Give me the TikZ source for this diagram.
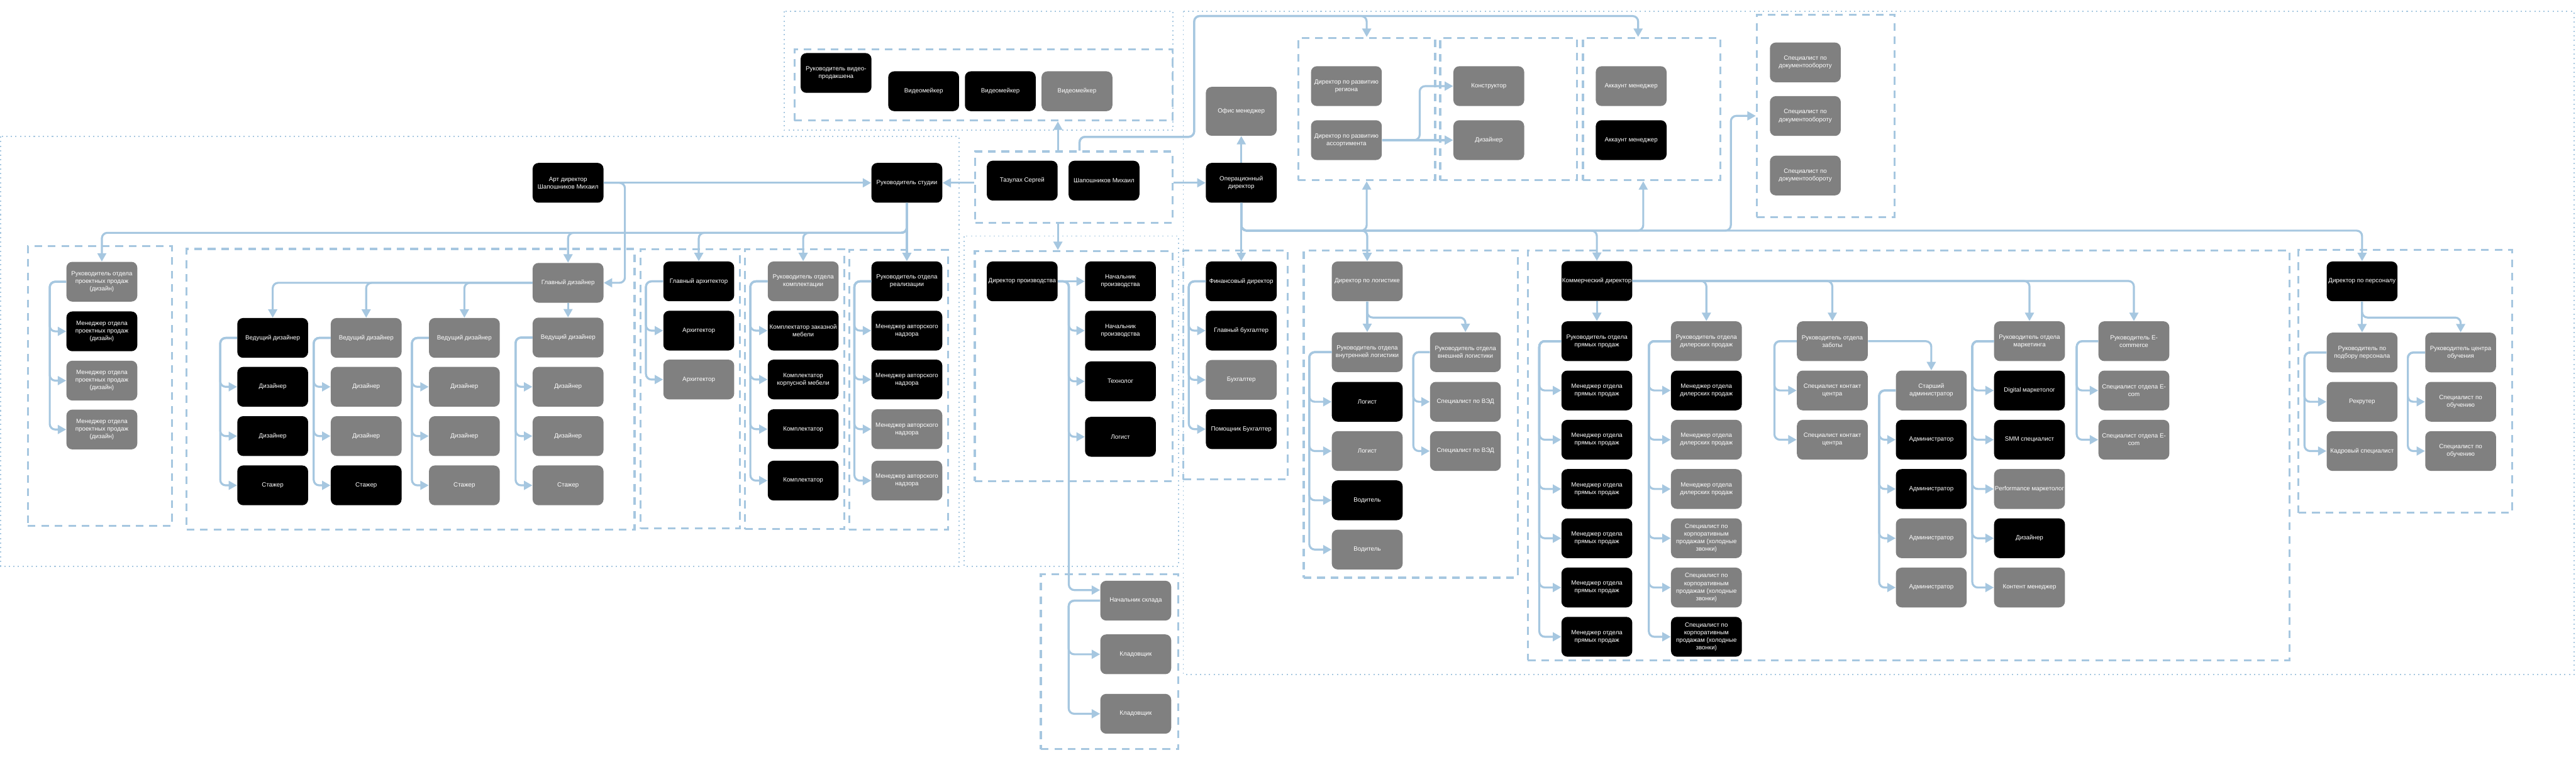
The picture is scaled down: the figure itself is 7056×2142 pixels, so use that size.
\documentclass[tikz,border=0pt]{standalone}
\usepackage{fontspec}
\setmainfont{Liberation Sans}
\usetikzlibrary{arrows.meta,calc}
\definecolor{conn}{RGB}{166,199,224}
\definecolor{vacfill}{RGB}{128,128,128}

\begin{document}
\begin{tikzpicture}[x=0.1mm,y=-0.1mm,
  box/.style={rounded corners=1.6mm,minimum width=19.4mm,minimum height=10.9mm,inner sep=0pt,align=center,text=white,font=\fontsize{4.8}{5.9}\selectfont},
  staff/.style={box,fill=black},
  vacant/.style={box,fill=vacfill},
  grp/.style={draw=conn,line width=0.55mm,dash pattern=on 2.1mm off 1.6mm,inner sep=0pt},
  zone/.style={draw=conn,line width=0.3mm,dash pattern=on 0.35mm off 0.9mm},
  arr/.style={-{Triangle[length=2.3mm,width=2.4mm]},draw=conn,line width=0.55mm,rounded corners=1.5mm}
]
\fill[white] (0,0) rectangle (7056,2142);

% zones
\draw[zone] (2,374) rectangle (2627,1552);
\draw[zone] (2148,31) rectangle (3213,357);
\draw[zone] (2641,647) rectangle (3228,1552);
\draw[zone] (3241,31) rectangle (7051,1848);

% departments
\node[grp,minimum width=39.5mm,minimum height=76.6mm] (fA) at (273.5,1058) {};
\node[grp,minimum width=122.7mm,minimum height=77mm] (fB) at (1124.5,1067) {};
\node[grp,minimum width=27.2mm,minimum height=76.5mm] (fC) at (1891,1065.5) {};
\node[grp,minimum width=27.1mm,minimum height=76.7mm] (fD) at (2176.5,1066.5) {};
\node[grp,minimum width=27.1mm,minimum height=76.6mm] (fE) at (2461.5,1068) {};
\node[grp,minimum width=103.6mm,minimum height=19.5mm] (vidgrp) at (2694,232.5) {};
\node[grp,minimum width=54.1mm,minimum height=19.5mm] (tazgrp) at (2941.5,512.5) {};
\node[grp,minimum width=54.2mm,minimum height=63mm] (prodgrp) at (2941,1003) {};
\node[grp,minimum width=37.7mm,minimum height=48mm] (skladgrp) at (3039.5,1813) {};
\node[grp,minimum width=28.6mm,minimum height=62.8mm] (fingrp) at (3384,1000) {};
\node[grp,minimum width=37.5mm,minimum height=39mm] (devF) at (3743.5,299) {};
\node[grp,minimum width=37.5mm,minimum height=39mm] (devG) at (4132.5,299) {};
\node[grp,minimum width=37.6mm,minimum height=39mm] (devH) at (4524,299) {};
\node[grp,minimum width=37.7mm,minimum height=55.5mm] (docsgrp) at (5000.5,317.5) {};
\node[grp,minimum width=58.6mm,minimum height=89.7mm] (loggrp) at (3864,1134.5) {};
\node[grp,minimum width=208.6mm,minimum height=112.3mm] (comgrp) at (5228,1247.5) {};
\node[grp,minimum width=58.5mm,minimum height=72mm] (persgrp) at (6588.5,1045) {};

% heads
\node[staff] (art) at (1556,501) {Арт директор\\Шапошников Михаил};
\node[staff] (rs) at (2484,501) {Руководитель студии};
\node[staff] (taz) at (2800,495) {Тазулах Сергей};
\node[staff] (shap) at (3024,495) {Шапошников Михаил};
\node[staff] (od) at (3400,501) {Операционный\\директор};
\node[vacant,minimum height=13.4mm] (om) at (3400,305) {Офис менеджер};

% video
\node[staff] (rvp) at (2290,200) {Руководитель видео-\\продакшена};
\node[staff] (vm1) at (2530,250) {Видеомейкер};
\node[staff] (vm2) at (2740,250) {Видеомейкер};
\node[vacant] (vm3) at (2950,250) {Видеомейкер};

% project sales
\node[vacant] (ropp) at (279,772) {Руководитель отдела\\проектных продаж\\(дизайн)};
\node[staff] (mpp1) at (279,908) {Менеджер отдела\\проектных продаж\\(дизайн)};
\node[vacant] (mpp2) at (279,1043) {Менеджер отдела\\проектных продаж\\(дизайн)};
\node[vacant] (mpp3) at (279,1177) {Менеджер отдела\\проектных продаж\\(дизайн)};

% designers
\node[vacant] (gd) at (1556,775) {Главный дизайнер};
\node[staff] (vd1) at (747,926) {Ведущий дизайнер};
\node[staff] (dz11) at (747,1060) {Дизайнер};
\node[staff] (dz12) at (747,1195) {Дизайнер};
\node[staff] (st1) at (747,1330) {Стажер};
\node[vacant] (vd2) at (1003,926) {Ведущий дизайнер};
\node[vacant] (dz21) at (1003,1060) {Дизайнер};
\node[vacant] (dz22) at (1003,1195) {Дизайнер};
\node[staff] (st2) at (1003,1330) {Стажер};
\node[vacant] (vd3) at (1272,926) {Ведущий дизайнер};
\node[vacant] (dz31) at (1272,1060) {Дизайнер};
\node[vacant] (dz32) at (1272,1195) {Дизайнер};
\node[vacant] (st3) at (1272,1330) {Стажер};
\node[vacant] (vd4) at (1556,925) {Ведущий дизайнер};
\node[vacant] (dz41) at (1556,1060) {Дизайнер};
\node[vacant] (dz42) at (1556,1195) {Дизайнер};
\node[vacant] (st4) at (1556,1330) {Стажер};

% architects
\node[staff] (ga) at (1914,771) {Главный архитектор};
\node[staff] (ar1) at (1914,906) {Архитектор};
\node[vacant] (ar2) at (1914,1040) {Архитектор};

% completion
\node[vacant] (rok) at (2200,771) {Руководитель отдела\\комплектации};
\node[staff] (kp1) at (2200,906) {Комплектатор заказной\\мебели};
\node[staff] (kp2) at (2200,1040) {Комплектатор\\корпусной мебели};
\node[staff] (kp3) at (2200,1176) {Комплектатор};
\node[staff] (kp4) at (2200,1317) {Комплектатор};

% realisation
\node[staff] (ror) at (2484,771) {Руководитель отдела\\реализации};
\node[staff] (mn1) at (2484,906) {Менеджер авторского\\надзора};
\node[staff] (mn2) at (2484,1040) {Менеджер авторского\\надзора};
\node[vacant] (mn3) at (2484,1176) {Менеджер авторского\\надзора};
\node[vacant] (mn4) at (2484,1317) {Менеджер авторского\\надзора};

% production
\node[staff] (dp) at (2800,771) {Директор производства};
\node[staff] (np1) at (3069,771) {Начальник\\производства};
\node[staff] (np2) at (3069,906) {Начальник\\производства};
\node[staff] (tech) at (3069,1045) {Технолог};
\node[staff] (lgp) at (3069,1197) {Логист};

% warehouse
\node[vacant] (ns) at (3111,1646) {Начальник склада};
\node[vacant] (kl1) at (3111,1793) {Кладовщик};
\node[vacant] (kl2) at (3111,1956) {Кладовщик};

% finance
\node[staff] (fd) at (3400,771) {Финансовый директор};
\node[staff] (gb) at (3400,906) {Главный бухгалтер};
\node[vacant] (bh) at (3400,1041) {Бухгалтер};
\node[staff] (pb) at (3400,1176) {Помощник Бухгалтер};

% development
\node[vacant] (drr) at (3688,236) {Директор по развитию\\региона};
\node[vacant] (dra) at (3688,384) {Директор по развитию\\ассортимента};
\node[vacant] (kon) at (4078,236) {Конструктор};
\node[vacant] (dzn) at (4078,384) {Дизайнер};
\node[vacant] (am1) at (4468,236) {Аккаунт менеджер};
\node[staff] (am2) at (4468,384) {Аккаунт менеджер};

% documents
\node[vacant] (sd1) at (4945,171) {Специалист по\\документообороту};
\node[vacant] (sd2) at (4945,318) {Специалист по\\документообороту};
\node[vacant] (sd3) at (4945,481) {Специалист по\\документообороту};

% logistics
\node[vacant] (dl) at (3745,771) {Директор по логистике};
\node[vacant] (rvl) at (3745,965) {Руководитель отдела\\внутренней логистики};
\node[staff] (lg1) at (3745,1101) {Логист};
\node[vacant] (lg2) at (3745,1236) {Логист};
\node[staff] (drv1) at (3745,1371) {Водитель};
\node[vacant] (drv2) at (3745,1506) {Водитель};
\node[vacant] (rnl) at (4014,965) {Руководитель отдела\\внешней логистики};
\node[vacant] (ved1) at (4014,1101) {Специалист по ВЭД};
\node[vacant] (ved2) at (4014,1236) {Специалист по ВЭД};

% commercial
\node[staff] (kd) at (4374,770) {Коммерческий директор};
\node[staff] (rpp) at (4374,935) {Руководитель отдела\\прямых продаж};
\node[staff] (mp1) at (4374,1070) {Менеджер отдела\\прямых продаж};
\node[staff] (mp2) at (4374,1205) {Менеджер отдела\\прямых продаж};
\node[staff] (mp3) at (4374,1340) {Менеджер отдела\\прямых продаж};
\node[staff] (mp4) at (4374,1475) {Менеджер отдела\\прямых продаж};
\node[staff] (mp5) at (4374,1610) {Менеджер отдела\\прямых продаж};
\node[staff] (mp6) at (4374,1745) {Менеджер отдела\\прямых продаж};
\node[vacant] (rdp) at (4674,935) {Руководитель отдела\\дилерских продаж};
\node[staff] (md1) at (4674,1070) {Менеджер отдела\\дилерских продаж};
\node[vacant] (md2) at (4674,1205) {Менеджер отдела\\дилерских продаж};
\node[vacant] (md3) at (4674,1340) {Менеджер отдела\\дилерских продаж};
\node[vacant] (sk1) at (4674,1475) {Специалист по\\корпоративным\\продажам (холодные\\звонки)};
\node[vacant] (sk2) at (4674,1610) {Специалист по\\корпоративным\\продажам (холодные\\звонки)};
\node[staff] (sk3) at (4674,1745) {Специалист по\\корпоративным\\продажам (холодные\\звонки)};
\node[vacant] (rz) at (5019,935) {Руководитель отдела\\заботы};
\node[vacant] (kc1) at (5019,1070) {Специалист контакт\\центра};
\node[vacant] (kc2) at (5019,1205) {Специалист контакт\\центра};
\node[vacant] (sa) at (5290,1070) {Старший\\администратор};
\node[staff] (ad1) at (5290,1205) {Администратор};
\node[staff] (ad2) at (5290,1340) {Администратор};
\node[vacant] (ad3) at (5290,1475) {Администратор};
\node[vacant] (ad4) at (5290,1610) {Администратор};
\node[vacant] (rm) at (5559,935) {Руководитель отдела\\маркетинга};
\node[staff] (dm) at (5559,1070) {Digital маркетолог};
\node[staff] (smm) at (5559,1205) {SMM специалист};
\node[vacant] (pm) at (5559,1340) {Performance маркетолог};
\node[staff] (mdz) at (5559,1475) {Дизайнер};
\node[vacant] (km) at (5559,1610) {Контент менеджер};
\node[vacant] (re) at (5845,935) {Руководитель E-\\commerce};
\node[vacant] (se1) at (5845,1070) {Специалист отдела E-\\com};
\node[vacant] (se2) at (5845,1205) {Специалист отдела E-\\com};

% personnel
\node[staff] (dpers) at (6470,771) {Директор по персоналу};
\node[vacant] (rpod) at (6470,966) {Руководитель по\\подбору персонала};
\node[vacant] (rek) at (6470,1101) {Рекрутер};
\node[vacant] (kadr) at (6470,1236) {Кадровый специалист};
\node[vacant] (rco) at (6740,966) {Руководитель центра\\обучения};
\node[vacant] (so1) at (6740,1101) {Специалист по\\обучению};
\node[vacant] (so2) at (6740,1236) {Специалист по\\обучению};

% bus points
\coordinate (sbus) at (0,638);
\coordinate (obus) at (0,632);
\coordinate (tj1) at (2957,375);
\coordinate (tj2) at (3271,44);
\coordinate (dj) at (4741,0);
\coordinate (htop) at ($(devH.north)+(-37,0)$);
\coordinate (hbot) at ($(devH.south)+(-23,0)$);

% top level
\draw[arr] (art.east) -- (rs.west);
\draw[arr] (art.east) -| ($(gd.east)+(58,0)$) -- (gd.east);
\draw[arr] (rs.east -| tazgrp.west) -- (rs.east);
\draw[arr] (od.west -| tazgrp.east) -- (od.west);
\draw[arr] (tazgrp.north -| taz.east) -- (vidgrp.south -| taz.east);
\draw[arr] (tazgrp.south -| taz.east) -- (prodgrp.north -| taz.east);
\draw[arr] (tazgrp.north -| tj1) -- (tj1) -| (tj2) -| (devF.north);
\draw[arr] (tazgrp.north -| tj1) -- (tj1) -| (tj2) -| (htop);
\draw[arr] (od.north) -- (om.south);

% studio
\draw[arr] (rs.south) |- (sbus -| ropp) -- (ropp.north);
\draw[arr] (rs.south) |- (sbus -| gd) -- (gd.north);
\draw[arr] (rs.south) |- (sbus -| ga) -- (ga.north);
\draw[arr] (rs.south) |- (sbus -| rok) -- (rok.north);
\draw[arr] (rs.south) -- (ror.north);

\draw[arr] (ropp.west) -- ++(-45,0) |- (mpp1.west);
\draw[arr] (ropp.west) -- ++(-45,0) |- (mpp2.west);
\draw[arr] (ropp.west) -- ++(-45,0) |- (mpp3.west);

\draw[arr] (gd.west) -| (vd1.north);
\draw[arr] (gd.west) -| (vd2.north);
\draw[arr] (gd.west) -| (vd3.north);
\draw[arr] (gd.south) -- (vd4.north);
\draw[arr] (vd1.west) -- ++(-46,0) |- (dz11.west);
\draw[arr] (vd1.west) -- ++(-46,0) |- (dz12.west);
\draw[arr] (vd1.west) -- ++(-46,0) |- (st1.west);
\draw[arr] (vd2.west) -- ++(-46,0) |- (dz21.west);
\draw[arr] (vd2.west) -- ++(-46,0) |- (dz22.west);
\draw[arr] (vd2.west) -- ++(-46,0) |- (st2.west);
\draw[arr] (vd3.west) -- ++(-46,0) |- (dz31.west);
\draw[arr] (vd3.west) -- ++(-46,0) |- (dz32.west);
\draw[arr] (vd3.west) -- ++(-46,0) |- (st3.west);
\draw[arr] (vd4.west) -- ++(-46,0) |- (dz41.west);
\draw[arr] (vd4.west) -- ++(-46,0) |- (dz42.west);
\draw[arr] (vd4.west) -- ++(-46,0) |- (st4.west);

\draw[arr] (ga.west) -- ++(-47,0) |- (ar1.west);
\draw[arr] (ga.west) -- ++(-47,0) |- (ar2.west);

\draw[arr] (rok.west) -- ++(-47,0) |- (kp1.west);
\draw[arr] (rok.west) -- ++(-47,0) |- (kp2.west);
\draw[arr] (rok.west) -- ++(-47,0) |- (kp3.west);
\draw[arr] (rok.west) -- ++(-47,0) |- (kp4.west);

\draw[arr] (ror.west) -- ++(-46,0) |- (mn1.west);
\draw[arr] (ror.west) -- ++(-46,0) |- (mn2.west);
\draw[arr] (ror.west) -- ++(-46,0) |- (mn3.west);
\draw[arr] (ror.west) -- ++(-46,0) |- (mn4.west);

% production
\draw[arr] (dp.east) -- (np1.west);
\draw[arr] (dp.east) -- ++(30,0) |- (np2.west);
\draw[arr] (dp.east) -- ++(30,0) |- (tech.west);
\draw[arr] (dp.east) -- ++(30,0) |- (lgp.west);
\draw[arr] (dp.east) -- ++(30,0) |- ([yshift=2.9mm]ns.west);
\draw[arr] (ns.west) -- ++(-86,0) |- (kl1.west);
\draw[arr] (ns.west) -- ++(-86,0) |- (kl2.west);

% operations
\draw[arr] (od.south) -- (fd.north);
\draw[arr] (od.south) |- (obus -| dl) -- (dl.north);
\draw[arr] (od.south) |- (obus -| kd) -- (kd.north);
\draw[arr] (od.south) |- (obus -| dpers) -- (dpers.north);
\draw[arr] (od.south) |- (obus -| devF) -- (devF.south);
\draw[arr] (od.south) |- (obus -| hbot) -- (hbot);
\draw[arr] (od.south) |- (obus -| dj) |- (docsgrp.west);

\draw[arr] (dra.east) -- (dzn.west);
\draw[arr] (dra.east) -- ++(103,0) |- (kon.west);

\draw[arr] (fd.west) -- ++(-46,0) |- (gb.west);
\draw[arr] (fd.west) -- ++(-46,0) |- (bh.west);
\draw[arr] (fd.west) -- ++(-46,0) |- (pb.west);

% logistics
\draw[arr] (dl.south) -- (rvl.north);
\draw[arr] (dl.south) -- ++(0,44) -| (rnl.north);
\draw[arr] (rvl.west) -- ++(-61,0) |- (lg1.west);
\draw[arr] (rvl.west) -- ++(-61,0) |- (lg2.west);
\draw[arr] (rvl.west) -- ++(-61,0) |- (drv1.west);
\draw[arr] (rvl.west) -- ++(-61,0) |- (drv2.west);
\draw[arr] (rnl.west) -- ++(-45,0) |- (ved1.west);
\draw[arr] (rnl.west) -- ++(-45,0) |- (ved2.west);

% commercial
\draw[arr] (kd.south) -- (rpp.north);
\draw[arr] (kd.east) -| (rdp.north);
\draw[arr] (kd.east) -| (rz.north);
\draw[arr] (kd.east) -| (rm.north);
\draw[arr] (kd.east) -| (re.north);
\draw[arr] (rz.east) -| (sa.north);

\draw[arr] (rpp.west) -- ++(-60,0) |- (mp1.west);
\draw[arr] (rpp.west) -- ++(-60,0) |- (mp2.west);
\draw[arr] (rpp.west) -- ++(-60,0) |- (mp3.west);
\draw[arr] (rpp.west) -- ++(-60,0) |- (mp4.west);
\draw[arr] (rpp.west) -- ++(-60,0) |- (mp5.west);
\draw[arr] (rpp.west) -- ++(-60,0) |- (mp6.west);

\draw[arr] (rdp.west) -- ++(-60,0) |- (md1.west);
\draw[arr] (rdp.west) -- ++(-60,0) |- (md2.west);
\draw[arr] (rdp.west) -- ++(-60,0) |- (md3.west);
\draw[arr] (rdp.west) -- ++(-60,0) |- (sk1.west);
\draw[arr] (rdp.west) -- ++(-60,0) |- (sk2.west);
\draw[arr] (rdp.west) -- ++(-60,0) |- (sk3.west);

\draw[arr] (rz.west) -- ++(-61,0) |- (kc1.west);
\draw[arr] (rz.west) -- ++(-61,0) |- (kc2.west);

\draw[arr] (sa.west) -- ++(-45,0) |- (ad1.west);
\draw[arr] (sa.west) -- ++(-45,0) |- (ad2.west);
\draw[arr] (sa.west) -- ++(-45,0) |- (ad3.west);
\draw[arr] (sa.west) -- ++(-45,0) |- (ad4.west);

\draw[arr] (rm.west) -- ++(-59,0) |- (dm.west);
\draw[arr] (rm.west) -- ++(-59,0) |- (smm.west);
\draw[arr] (rm.west) -- ++(-59,0) |- (pm.west);
\draw[arr] (rm.west) -- ++(-59,0) |- (mdz.west);
\draw[arr] (rm.west) -- ++(-59,0) |- (km.west);

\draw[arr] (re.west) -- ++(-59,0) |- (se1.west);
\draw[arr] (re.west) -- ++(-59,0) |- (se2.west);

% personnel
\draw[arr] (dpers.south) -- (rpod.north);
\draw[arr] (dpers.south) -- ++(0,44) -| (rco.north);
\draw[arr] (rpod.west) -- ++(-60,0) |- (rek.west);
\draw[arr] (rpod.west) -- ++(-60,0) |- (kadr.west);
\draw[arr] (rco.west) -- ++(-47,0) |- (so1.west);
\draw[arr] (rco.west) -- ++(-47,0) |- (so2.west);
\end{tikzpicture}
\end{document}
